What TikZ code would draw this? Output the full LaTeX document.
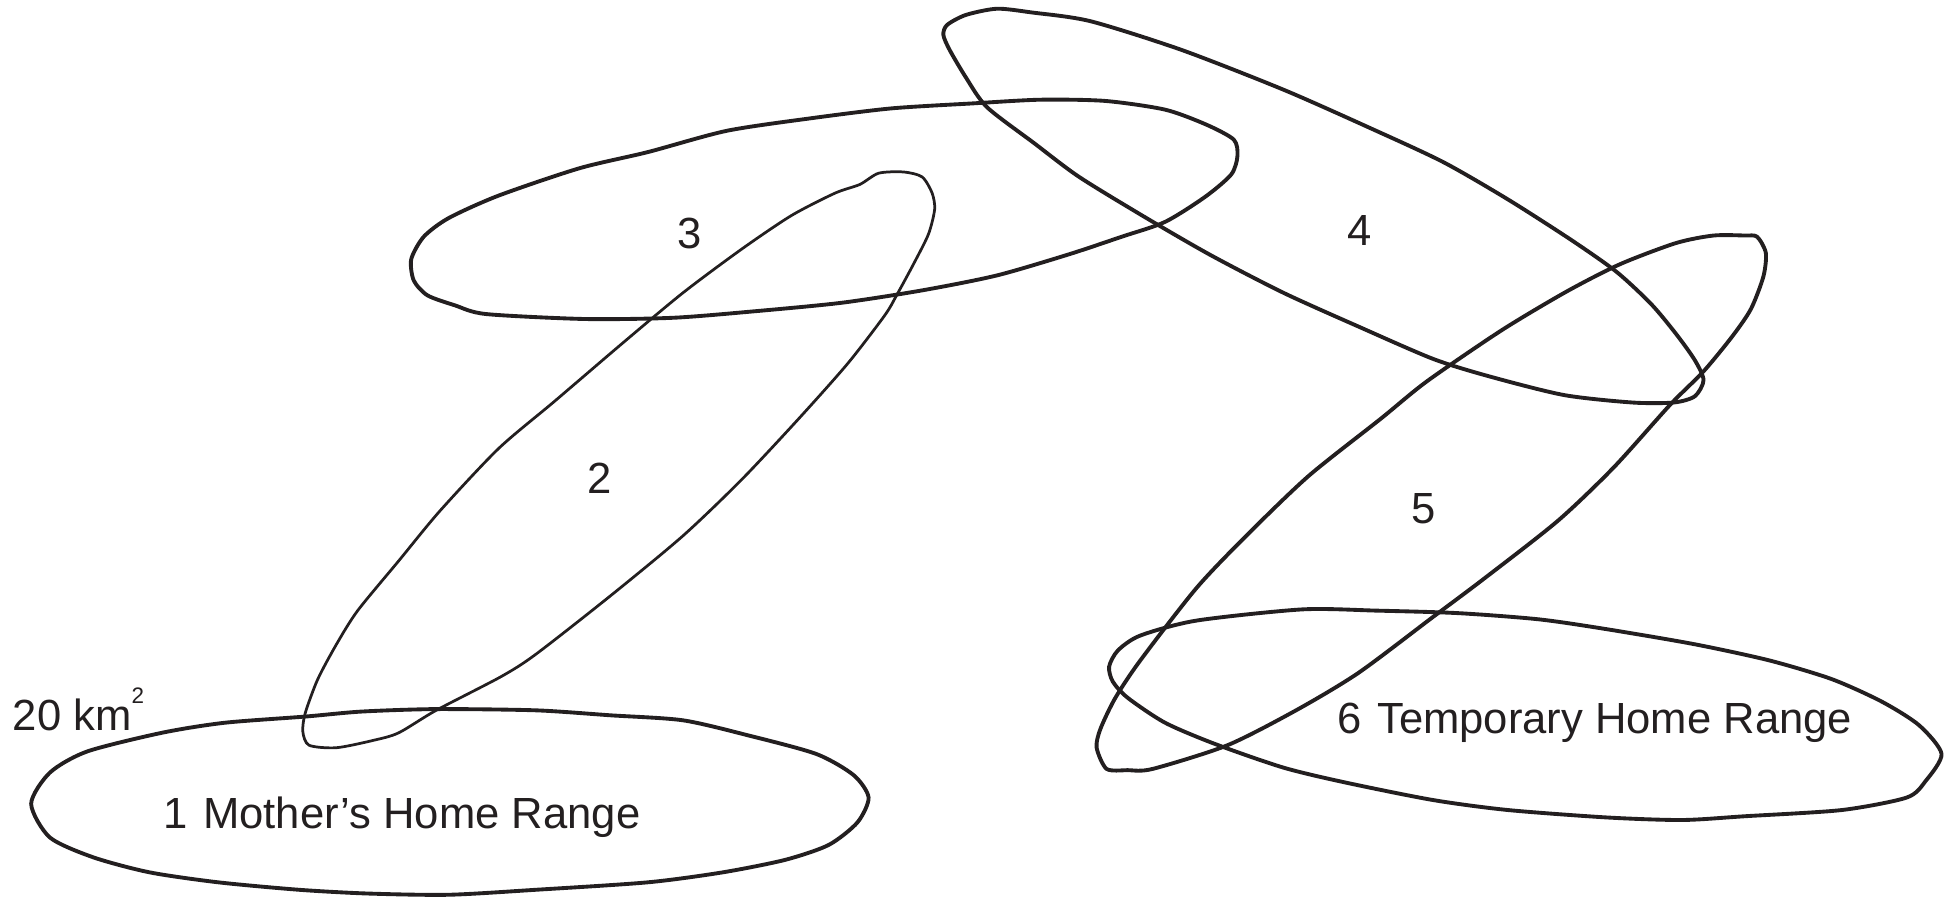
\documentclass[tikz,border=0pt]{standalone}
\usepackage{fontspec}
\setmainfont{Liberation Sans}
\definecolor{ink}{HTML}{231F20}
\begin{document}
\begin{tikzpicture}[x=0.5pt,y=-0.5pt,
  homerange/.style={draw=ink,line width=1.55pt,line join=round},
  thinhomerange/.style={draw=ink,line width=1.1pt,line join=round},
  lbl/.style={text=ink,font=\fontsize{17.5}{20}\selectfont,inner sep=0pt}]
\useasboundingbox (0,0) rectangle (1568,729);
% 1 Mother's home range
\draw[homerange] plot[smooth cycle,tension=0.45] coordinates {
(25,645) (40,620) (70,603) (130,588) (180,580) (245,575) (290,571) (350,569)
(430,570) (490,574) (548,578) (600,590) (655,605) (685,622) (697,640) (688,660)
(665,678) (630,690) (580,700) (520,708) (430,714) (360,718) (295,717) (240,714)
(175,708) (120,700) (75,688) (40,672)};
% 2
\draw[thinhomerange] plot[smooth cycle,tension=0.45] coordinates {
(248,598) (270,600) (300,594) (320,588) (350,570) (402,543) (430,525) (490,478)
(548,430) (595,385) (640,337) (680,292) (710,253) (720,236) (733,212) (745,188)
(750,168) (748,155) (740,142) (725,138) (705,139) (690,148) (670,155) (635,173)
(595,200) (548,235) (500,275) (445,322) (400,360) (353,410) (320,450) (287,490)
(270,517) (255,545) (245,572) (243,587)};
% 3
\draw[homerange] plot[smooth cycle,tension=0.45] coordinates {
(330,208) (340,190) (360,175) (400,157) (465,135) (520,122) (583,105) (650,95)
(715,87) (780,83) (835,80) (887,81) (935,88) (968,100) (990,112) (993,125)
(988,140) (967,158) (935,178) (900,190) (858,204) (800,221) (740,233) (675,243)
(603,250) (540,255) (470,256) (390,252) (365,245) (343,237) (332,225)};
% 4
\draw[homerange] plot[smooth cycle,tension=0.45] coordinates {
(760,20) (775,12) (800,7) (828,10) (875,17) (948,40) (1030,72) (1100,103)
(1158,130) (1210,160) (1260,192) (1297,218) (1325,244) (1345,268) (1360,289)
(1367,305) (1360,318) (1343,323) (1310,323) (1255,317) (1195,302) (1150,288)
(1090,262) (1030,235) (972,205) (920,175) (866,142) (830,115) (792,86) (775,62)
(762,40) (757,28)};
% 5
\draw[homerange] plot[smooth cycle,tension=0.45] coordinates {
(1410,190) (1417,203) (1415,222) (1405,248) (1390,270) (1367,298) (1340,325)
(1295,375) (1250,418) (1190,465) (1150,495) (1090,540) (1040,570) (985,598)
(925,617) (905,618) (888,617) (880,600) (883,585) (895,560) (915,530) (960,472)
(1000,430) (1050,382) (1108,336) (1145,306) (1205,265) (1257,234) (1300,212)
(1345,195) (1375,189) (1400,189)};
% 6 Temporary home range
\draw[homerange] plot[smooth cycle,tension=0.45] coordinates {
(890,535) (897,522) (915,510) (960,498) (1045,489) (1105,490) (1170,492)
(1235,497) (1290,505) (1360,517) (1420,530) (1470,545) (1510,563) (1540,582)
(1558,605) (1545,627) (1530,640) (1478,650) (1400,655) (1350,658) (1290,656)
(1210,650) (1150,642) (1080,628) (1030,616) (975,597) (935,580) (905,560) (893,547)};
% labels
\node[lbl,anchor=west] (t1) at (131,656) {1\hspace{0.35em}Mother’s Home Range};
\node[lbl] (t2) at (481,384) {2};
\node[lbl] (t3) at (553,187) {3};
\node[lbl] (t4) at (1091,185) {4};
\node[lbl] (t5) at (1142,408) {5};
\node[lbl,anchor=west] (t6) at (1073,580) {6\hspace{0.35em}Temporary Home Range};
\node[lbl,anchor=west] (sc) at (10,569) {20 km\raisebox{0.62em}{\fontsize{9}{10}\selectfont 2}};
\end{tikzpicture}
\end{document}
